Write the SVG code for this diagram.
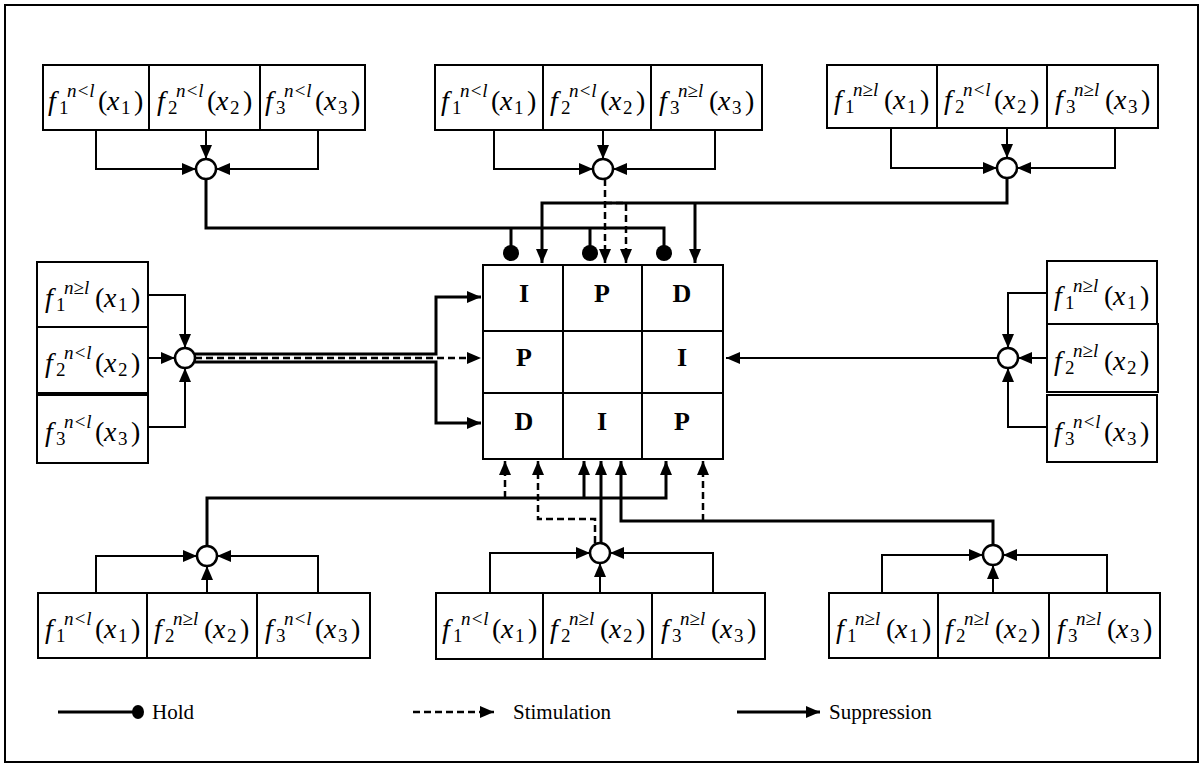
<svg xmlns="http://www.w3.org/2000/svg" width="1204" height="767" viewBox="0 0 1204 767">
<style>
.frame{fill:#fff;stroke:#000;stroke-width:2}
.box{fill:#fff;stroke:#000;stroke-width:2}
.thin{fill:none;stroke:#000;stroke-width:2}
.thick{fill:none;stroke:#000;stroke-width:3}
.dash{fill:none;stroke:#000;stroke-width:2.5;stroke-dasharray:7 4}
.cir{fill:#fff;stroke:#000;stroke-width:2.5}
.m{font-family:"Liberation Serif","Times New Roman",serif;font-size:28px;fill:#000}
.i{font-style:italic}
.s{font-size:19px}
.g{font-family:"Liberation Serif","Times New Roman",serif;font-size:26px;font-weight:bold;text-anchor:middle}
.lg{font-family:"Liberation Serif","Times New Roman",serif;font-size:21px}
</style>
<defs>
<marker id="arr" markerUnits="userSpaceOnUse" markerWidth="14" markerHeight="12" refX="14" refY="6" orient="auto"><path d="M0,0 L14,6 L0,12 z" fill="#000"/></marker>
<marker id="dot" markerUnits="userSpaceOnUse" markerWidth="18" markerHeight="18" refX="9" refY="9" orient="auto"><circle cx="9" cy="9" r="8" fill="#000"/></marker>
<marker id="dots" markerUnits="userSpaceOnUse" markerWidth="14" markerHeight="16" refX="7" refY="8" orient="auto"><ellipse cx="7" cy="8" rx="6" ry="7" fill="#000"/></marker>
</defs>
<rect class="frame" x="5" y="5" width="1193" height="757"/>

<g id="connectors">
<path class="thin" d="M96,130 V169 H196" marker-end="url(#arr)"/>
<path class="thin" d="M206,130 V159" marker-end="url(#arr)"/>
<path class="thin" d="M318,130 V169 H216" marker-end="url(#arr)"/>
<path class="thin" d="M494,130 V169 H593" marker-end="url(#arr)"/>
<path class="thin" d="M603,130 V159" marker-end="url(#arr)"/>
<path class="thin" d="M715,130 V169 H613" marker-end="url(#arr)"/>
<path class="thin" d="M891,128 V168 H997" marker-end="url(#arr)"/>
<path class="thin" d="M1007,128 V158" marker-end="url(#arr)"/>
<path class="thin" d="M1115,128 V168 H1017" marker-end="url(#arr)"/>
<path class="thin" d="M148,295 H185 V348" marker-end="url(#arr)"/>
<path class="thin" d="M148,358 H175" marker-end="url(#arr)"/>
<path class="thin" d="M148,427 H185 V368" marker-end="url(#arr)"/>
<path class="thin" d="M1047,293 H1008 V348" marker-end="url(#arr)"/>
<path class="thin" d="M1047,358 H1018" marker-end="url(#arr)"/>
<path class="thin" d="M1047,427 H1008 V368" marker-end="url(#arr)"/>
<path class="thin" d="M96,593 V556 H197" marker-end="url(#arr)"/>
<path class="thin" d="M207,593 V566" marker-end="url(#arr)"/>
<path class="thin" d="M318,593 V556 H217" marker-end="url(#arr)"/>
<path class="thin" d="M490,593 V553 H590" marker-end="url(#arr)"/>
<path class="thin" d="M600,593 V563" marker-end="url(#arr)"/>
<path class="thin" d="M713,593 V553 H610" marker-end="url(#arr)"/>
<path class="thin" d="M882,593 V555 H983" marker-end="url(#arr)"/>
<path class="thin" d="M993,593 V565" marker-end="url(#arr)"/>
<path class="thin" d="M1107,593 V555 H1003" marker-end="url(#arr)"/>
<path class="thick" d="M206,179 V228 H664 V253" marker-end="url(#dot)"/>
<path class="thick" d="M511,228 V253" marker-end="url(#dot)"/>
<path class="thick" d="M590,228 V253" marker-end="url(#dot)"/>
<path class="thick" d="M1007,178 V203 H542 V263" marker-end="url(#arr)"/>
<path class="thick" d="M695,203 V263" marker-end="url(#arr)"/>
<path class="dash" d="M605,179 V263" marker-end="url(#arr)"/>
<path class="dash" d="M605,203 H626 V263" marker-end="url(#arr)"/>
<path class="thick" d="M195,354 H436 V297 H481" marker-end="url(#arr)"/>
<path class="thick" d="M195,362 H436 V423 H481" marker-end="url(#arr)"/>
<path class="dash" d="M195,358 H481" marker-end="url(#arr)"/>
<path class="thin" d="M998,358 H726" marker-end="url(#arr)"/>
<path class="thick" d="M207,546 V498 H666 V461" marker-end="url(#arr)"/>
<path class="thick" d="M584,498 V461" marker-end="url(#arr)"/>
<path class="dash" d="M505,498 V461" marker-end="url(#arr)"/>
<path class="thick" d="M601,543 V461" marker-end="url(#arr)"/>
<path class="dash" d="M595,543 V519 H538 V461" marker-end="url(#arr)"/>
<path class="thick" d="M993,545 V521 H621 V461" marker-end="url(#arr)"/>
<path class="dash" d="M703,521 V461" marker-end="url(#arr)"/>
</g>

<g id="grid">
<rect class="box" x="483" y="265" width="240" height="194"/>
<path class="thin" d="M563,265 V459 M642,265 V459 M483,331 H723 M483,393 H723"/>
<text class="g" x="524" y="302">I</text>
<text class="g" x="602" y="302">P</text>
<text class="g" x="682" y="302">D</text>
<text class="g" x="524" y="366">P</text>
<text class="g" x="682" y="366">I</text>
<text class="g" x="524" y="430">D</text>
<text class="g" x="602" y="430">I</text>
<text class="g" x="682" y="430">P</text>
</g>

<g id="circles">
<circle class="cir" cx="206" cy="169" r="10"/>
<circle class="cir" cx="603" cy="169" r="10"/>
<circle class="cir" cx="1007" cy="168" r="10"/>
<circle class="cir" cx="185" cy="358" r="10"/>
<circle class="cir" cx="1008" cy="358" r="10"/>
<circle class="cir" cx="207" cy="556" r="10"/>
<circle class="cir" cx="600" cy="553" r="10"/>
<circle class="cir" cx="993" cy="555" r="10"/>
</g>

<g id="top-left">
<rect class="box" x="43" y="65" width="106" height="65"/>
<rect class="box" x="149" y="65" width="111" height="65"/>
<rect class="box" x="260" y="65" width="105" height="65"/>
<text class="m" y="110"><tspan class="i" x="48">f</tspan><tspan class="s" x="59" y="114">1</tspan><tspan class="s i" x="67" y="97">n&lt;l</tspan><tspan x="98" y="110">(</tspan><tspan class="i" x="107">x</tspan><tspan class="s" x="121" y="114">1</tspan><tspan x="134" y="110">)</tspan></text>
<text class="m" y="110"><tspan class="i" x="157">f</tspan><tspan class="s" x="168" y="114">2</tspan><tspan class="s i" x="176" y="97">n&lt;l</tspan><tspan x="207" y="110">(</tspan><tspan class="i" x="216">x</tspan><tspan class="s" x="230" y="114">2</tspan><tspan x="243" y="110">)</tspan></text>
<text class="m" y="110"><tspan class="i" x="265">f</tspan><tspan class="s" x="276" y="114">3</tspan><tspan class="s i" x="284" y="97">n&lt;l</tspan><tspan x="315" y="110">(</tspan><tspan class="i" x="324">x</tspan><tspan class="s" x="338" y="114">3</tspan><tspan x="351" y="110">)</tspan></text>
</g>

<g id="top-middle">
<rect class="box" x="435" y="65" width="108" height="65"/>
<rect class="box" x="543" y="65" width="108" height="65"/>
<rect class="box" x="651" y="65" width="111" height="65"/>
<text class="m" y="110"><tspan class="i" x="441">f</tspan><tspan class="s" x="452" y="114">1</tspan><tspan class="s i" x="460" y="97">n&lt;l</tspan><tspan x="491" y="110">(</tspan><tspan class="i" x="500">x</tspan><tspan class="s" x="514" y="114">1</tspan><tspan x="527" y="110">)</tspan></text>
<text class="m" y="110"><tspan class="i" x="550">f</tspan><tspan class="s" x="561" y="114">2</tspan><tspan class="s i" x="569" y="97">n&lt;l</tspan><tspan x="600" y="110">(</tspan><tspan class="i" x="609">x</tspan><tspan class="s" x="623" y="114">2</tspan><tspan x="636" y="110">)</tspan></text>
<text class="m" y="110"><tspan class="i" x="659">f</tspan><tspan class="s" x="670" y="114">3</tspan><tspan class="s i" x="678" y="97">n≥l</tspan><tspan x="709" y="110">(</tspan><tspan class="i" x="718">x</tspan><tspan class="s" x="732" y="114">3</tspan><tspan x="745" y="110">)</tspan></text>
</g>

<g id="top-right">
<rect class="box" x="827" y="65" width="110" height="63"/>
<rect class="box" x="937" y="65" width="110" height="63"/>
<rect class="box" x="1047" y="65" width="111" height="63"/>
<text class="m" y="109"><tspan class="i" x="834">f</tspan><tspan class="s" x="845" y="113">1</tspan><tspan class="s i" x="853" y="96">n≥l</tspan><tspan x="884" y="109">(</tspan><tspan class="i" x="893">x</tspan><tspan class="s" x="907" y="113">1</tspan><tspan x="920" y="109">)</tspan></text>
<text class="m" y="109"><tspan class="i" x="944">f</tspan><tspan class="s" x="955" y="113">2</tspan><tspan class="s i" x="963" y="96">n&lt;l</tspan><tspan x="994" y="109">(</tspan><tspan class="i" x="1003">x</tspan><tspan class="s" x="1017" y="113">2</tspan><tspan x="1030" y="109">)</tspan></text>
<text class="m" y="109"><tspan class="i" x="1055">f</tspan><tspan class="s" x="1066" y="113">3</tspan><tspan class="s i" x="1074" y="96">n≥l</tspan><tspan x="1105" y="109">(</tspan><tspan class="i" x="1114">x</tspan><tspan class="s" x="1128" y="113">3</tspan><tspan x="1141" y="109">)</tspan></text>
</g>

<g id="left">
<rect class="box" x="37" y="262" width="111" height="65"/>
<rect class="box" x="37" y="327" width="111" height="66"/>
<rect class="box" x="37" y="395" width="111" height="68"/>
<text class="m" y="307"><tspan class="i" x="45">f</tspan><tspan class="s" x="56" y="311">1</tspan><tspan class="s i" x="64" y="294">n≥l</tspan><tspan x="95" y="307">(</tspan><tspan class="i" x="104">x</tspan><tspan class="s" x="118" y="311">1</tspan><tspan x="131" y="307">)</tspan></text>
<text class="m" y="372"><tspan class="i" x="45">f</tspan><tspan class="s" x="56" y="376">2</tspan><tspan class="s i" x="64" y="359">n&lt;l</tspan><tspan x="95" y="372">(</tspan><tspan class="i" x="104">x</tspan><tspan class="s" x="118" y="376">2</tspan><tspan x="131" y="372">)</tspan></text>
<text class="m" y="441"><tspan class="i" x="45">f</tspan><tspan class="s" x="56" y="445">3</tspan><tspan class="s i" x="64" y="428">n&lt;l</tspan><tspan x="95" y="441">(</tspan><tspan class="i" x="104">x</tspan><tspan class="s" x="118" y="445">3</tspan><tspan x="131" y="441">)</tspan></text>
</g>

<g id="right">
<rect class="box" x="1047" y="261" width="110" height="63"/>
<rect class="box" x="1047" y="324" width="111" height="68"/>
<rect class="box" x="1047" y="395" width="110" height="67"/>
<text class="m" y="305"><tspan class="i" x="1054">f</tspan><tspan class="s" x="1065" y="309">1</tspan><tspan class="s i" x="1073" y="292">n≥l</tspan><tspan x="1104" y="305">(</tspan><tspan class="i" x="1113">x</tspan><tspan class="s" x="1127" y="309">1</tspan><tspan x="1140" y="305">)</tspan></text>
<text class="m" y="370"><tspan class="i" x="1054">f</tspan><tspan class="s" x="1065" y="374">2</tspan><tspan class="s i" x="1073" y="357">n≥l</tspan><tspan x="1104" y="370">(</tspan><tspan class="i" x="1113">x</tspan><tspan class="s" x="1127" y="374">2</tspan><tspan x="1140" y="370">)</tspan></text>
<text class="m" y="441"><tspan class="i" x="1054">f</tspan><tspan class="s" x="1065" y="445">3</tspan><tspan class="s i" x="1073" y="428">n&lt;l</tspan><tspan x="1104" y="441">(</tspan><tspan class="i" x="1113">x</tspan><tspan class="s" x="1127" y="445">3</tspan><tspan x="1140" y="441">)</tspan></text>
</g>

<g id="bottom-left">
<rect class="box" x="38" y="593" width="109" height="65"/>
<rect class="box" x="147" y="593" width="110" height="65"/>
<rect class="box" x="257" y="593" width="113" height="65"/>
<text class="m" y="638"><tspan class="i" x="45">f</tspan><tspan class="s" x="56" y="642">1</tspan><tspan class="s i" x="64" y="625">n&lt;l</tspan><tspan x="95" y="638">(</tspan><tspan class="i" x="104">x</tspan><tspan class="s" x="118" y="642">1</tspan><tspan x="131" y="638">)</tspan></text>
<text class="m" y="638"><tspan class="i" x="154">f</tspan><tspan class="s" x="165" y="642">2</tspan><tspan class="s i" x="173" y="625">n≥l</tspan><tspan x="204" y="638">(</tspan><tspan class="i" x="213">x</tspan><tspan class="s" x="227" y="642">2</tspan><tspan x="240" y="638">)</tspan></text>
<text class="m" y="638"><tspan class="i" x="265">f</tspan><tspan class="s" x="276" y="642">3</tspan><tspan class="s i" x="284" y="625">n&lt;l</tspan><tspan x="315" y="638">(</tspan><tspan class="i" x="324">x</tspan><tspan class="s" x="338" y="642">3</tspan><tspan x="351" y="638">)</tspan></text>
</g>

<g id="bottom-middle">
<rect class="box" x="436" y="593" width="107" height="66"/>
<rect class="box" x="543" y="593" width="109" height="66"/>
<rect class="box" x="652" y="593" width="113" height="66"/>
<text class="m" y="638"><tspan class="i" x="442">f</tspan><tspan class="s" x="453" y="642">1</tspan><tspan class="s i" x="461" y="625">n&lt;l</tspan><tspan x="492" y="638">(</tspan><tspan class="i" x="501">x</tspan><tspan class="s" x="515" y="642">1</tspan><tspan x="528" y="638">)</tspan></text>
<text class="m" y="638"><tspan class="i" x="550">f</tspan><tspan class="s" x="561" y="642">2</tspan><tspan class="s i" x="569" y="625">n≥l</tspan><tspan x="600" y="638">(</tspan><tspan class="i" x="609">x</tspan><tspan class="s" x="623" y="642">2</tspan><tspan x="636" y="638">)</tspan></text>
<text class="m" y="638"><tspan class="i" x="661">f</tspan><tspan class="s" x="672" y="642">3</tspan><tspan class="s i" x="680" y="625">n≥l</tspan><tspan x="711" y="638">(</tspan><tspan class="i" x="720">x</tspan><tspan class="s" x="734" y="642">3</tspan><tspan x="747" y="638">)</tspan></text>
</g>

<g id="bottom-right">
<rect class="box" x="829" y="593" width="109" height="65"/>
<rect class="box" x="938" y="593" width="111" height="65"/>
<rect class="box" x="1049" y="593" width="111" height="65"/>
<text class="m" y="638"><tspan class="i" x="836">f</tspan><tspan class="s" x="847" y="642">1</tspan><tspan class="s i" x="855" y="625">n≥l</tspan><tspan x="886" y="638">(</tspan><tspan class="i" x="895">x</tspan><tspan class="s" x="909" y="642">1</tspan><tspan x="922" y="638">)</tspan></text>
<text class="m" y="638"><tspan class="i" x="945">f</tspan><tspan class="s" x="956" y="642">2</tspan><tspan class="s i" x="964" y="625">n≥l</tspan><tspan x="995" y="638">(</tspan><tspan class="i" x="1004">x</tspan><tspan class="s" x="1018" y="642">2</tspan><tspan x="1031" y="638">)</tspan></text>
<text class="m" y="638"><tspan class="i" x="1057">f</tspan><tspan class="s" x="1068" y="642">3</tspan><tspan class="s i" x="1076" y="625">n≥l</tspan><tspan x="1107" y="638">(</tspan><tspan class="i" x="1116">x</tspan><tspan class="s" x="1130" y="642">3</tspan><tspan x="1143" y="638">)</tspan></text>
</g>

<g id="legend">
<path class="thick" d="M58,712 H138" marker-end="url(#dots)"/>
<text class="lg" x="152" y="719">Hold</text>
<path class="dash" d="M413,712 H494" marker-end="url(#arr)"/>
<text class="lg" x="513" y="719">Stimulation</text>
<path class="thick" d="M737,712 H820" marker-end="url(#arr)"/>
<text class="lg" x="829" y="719">Suppression</text>
</g>
</svg>
